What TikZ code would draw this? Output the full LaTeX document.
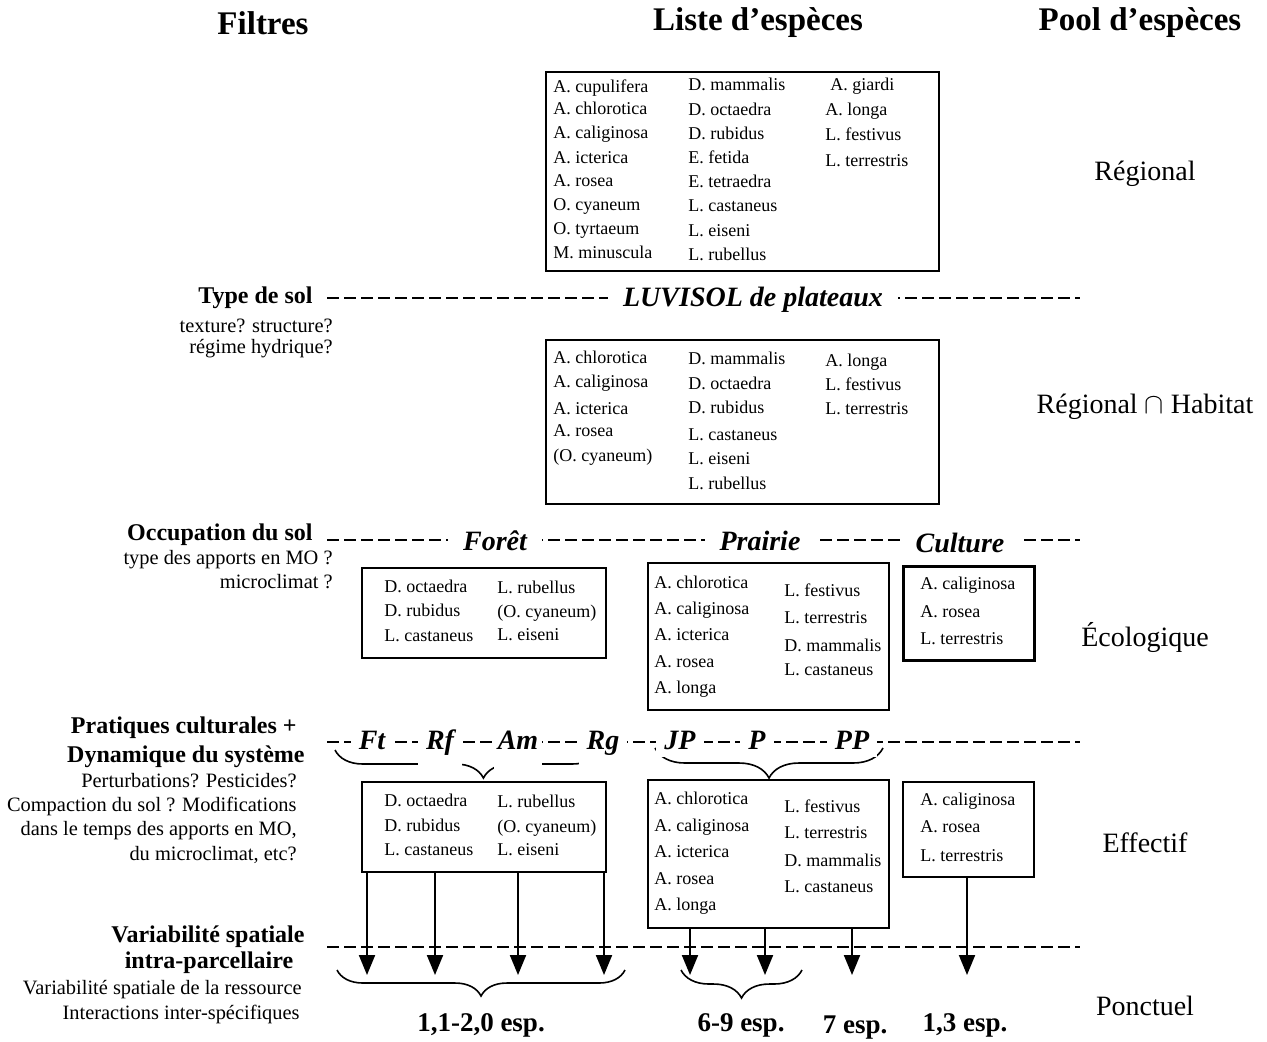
\documentclass[tikz,border=0pt]{standalone}
\usepackage{fontspec}
\setmainfont{Liberation Serif}
\usetikzlibrary{arrows.meta,decorations.pathreplacing,positioning}
\tikzset{
  titre/.style    = {font=\fontsize{16.5}{19}\selectfont\bfseries},
  filtre/.style   = {font=\fontsize{12}{14}\selectfont\bfseries, anchor=east, inner sep=0pt},
  question/.style = {font=\fontsize{10.2}{12}\selectfont, anchor=east, inner sep=0pt},
  pool/.style     = {font=\fontsize{14}{16}\selectfont},
  modalite/.style = {font=\fontsize{14}{16}\selectfont\bfseries\itshape, fill=white,
                     inner xsep=7.5pt, inner ysep=1pt},
  pratique/.style = {modalite, inner xsep=4pt, text height=10pt, text depth=3pt},
  cache/.style    = {minimum height=30pt},
  cadre/.style    = {draw, line width=1pt, anchor=north west, inner sep=0pt},
  espece/.style   = {anchor=west, inner sep=0pt, text height=6.5pt, text depth=2pt,
                     font=\fontsize{9}{11}\selectfont},
  limite/.style   = {line width=1pt, dash pattern=on 6pt off 2.5pt},
  fleche/.style   = {line width=1pt, -{Triangle[length=10pt,width=8pt]}},
  accolade/.style = {line width=0.8pt, decorate, decoration={brace, mirror, amplitude=#1}},
  accolade/.default = 12pt,
  nbesp/.style    = {font=\fontsize{13.5}{16}\selectfont\bfseries},
}

\begin{document}
\begin{tikzpicture}[x=0.5pt, y=-0.5pt]
  \useasboundingbox (0,0) rectangle (1267,1041);

  % ---- en-tetes -----------------------------------------------------------
  \node[titre] (hFiltres) at (263,23)  {Filtres};
  \node[titre] (hListe)   at (758,23)  {Liste d’espèces};
  \node[titre] (hPool)    at (1140,23) {Pool d’espèces};

  % ---- pools d'especes ----------------------------------------------------
  \node[pool] (pRegional) at (1145,174)  {Régional};
  \node[pool] (pHabitat)  at (1145,407)  {Régional $\cap$ Habitat};
  \node[pool] (pEcolo)    at (1145,637)  {Écologique};
  \node[pool] (pEffectif) at (1145,843)  {Effectif};
  \node[pool] (pPonctuel) at (1145,1006) {Ponctuel};

  % ---- filtres ------------------------------------------------------------
  \node[filtre]   (fSol)   at (313,298) {Type de sol};
  \node[question] (qSol1)  at (333,326) {texture? structure?};
  \node[question] (qSol2)  at (333,349) {régime hydrique?};
  \node[filtre]   (fOccup) at (313,535) {Occupation du sol};
  \node[question] (qOcc1)  at (333,560) {type des apports en MO ?};
  \node[question] (qOcc2)  at (333,582) {microclimat ?};
  \node[filtre]   (fPrat1) at (297,728) {Pratiques culturales +};
  \node[filtre]   (fPrat2) at (305,757) {Dynamique du système};
  \node[question] (qPra1)  at (297,781) {Perturbations? Pesticides?};
  \node[question] (qPra2)  at (297,806) {Compaction du sol ? Modifications};
  \node[question] (qPra3)  at (297,831) {dans le temps des apports en MO,};
  \node[question] (qPra4)  at (297,855) {du microclimat, etc?};
  \node[filtre, anchor=center] (fVar1) at (208,937) {Variabilité spatiale};
  \node[filtre, anchor=center] (fVar2) at (209,963) {intra-parcellaire};
  \node[question] (qVar1)  at (302,990)  {Variabilité spatiale de la ressource};
  \node[question] (qVar2)  at (300,1014) {Interactions inter-spécifiques};

  % ---- limites entre niveaux ---------------------------------------------
  \coordinate (g1) at (327,298); \coordinate (d1) at (1080,298);
  \coordinate (g2) at (327,540); \coordinate (d2) at (1080,540);
  \coordinate (g3) at (327,742); \coordinate (d3) at (1080,742);
  \coordinate (g4) at (327,947); \coordinate (d4) at (1080,947);
  \draw[limite] (g1) -- (d1);
  \draw[limite] (g2) -- (d2);
  \draw[limite] (g3) -- (d3);
  \draw[limite] (g4) -- (d4);

  % ---- accolades ----------------------------------------------------------
  \coordinate (bFt1) at (335,750); \coordinate (bFt2) at (600,750);
  \coordinate (bJP1) at (655,748); \coordinate (bJP2) at (883,748);
  \coordinate (bN1g) at (337,970); \coordinate (bN1d) at (625,970);
  \coordinate (bN2g) at (681,970); \coordinate (bN2d) at (802,970);
  \draw[accolade=14pt, decoration={aspect=0.56}] (bFt1) -- (bFt2);
  \draw[accolade=15pt] (bJP1) -- (bJP2);
  \draw[accolade=13pt] (bN1g) -- (bN1d);
  \draw[accolade=14pt] (bN2g) -- (bN2d);

  % ---- modalites ----------------------------------------------------------
  \node[modalite] (luvisol) at (753,300) {LUVISOL de plateaux};
  \node[modalite] (foret)   at (495,541) {Forêt};
  \node[modalite] (prairie) at (760,541) {Prairie};
  \node[modalite] (culture) at (960,543) {Culture};
  \node[pratique]        (ft) at (372,742) {Ft};
  \node[pratique, cache] (rf) at (440,742) {Rf};
  \node[pratique, cache, inner xsep=2pt] (am) at (518,742) {Am};
  \node[pratique, cache] (rg) at (603,742) {Rg};
  \node[pratique]        (jp) at (680,742) {JP};
  \node[pratique]        (pp1) at (757,742) {P};
  \node[pratique]        (pp2) at (852,742) {PP};

  % ---- listes d'especes ---------------------------------------------------
  \node[cadre, minimum width=196.5pt, minimum height=99.5pt] (regional) at (545,71) {};
  \foreach \y/\s [count=\i] in {88/A. cupulifera, 110/A. chlorotica, 134/A. caliginosa,
      159/A. icterica, 182/A. rosea, 206/O. cyaneum, 230/O. tyrtaeum, 254/M. minuscula}
    \node[espece] (rA\i) at (553,\y) {\s};
  \foreach \y/\s [count=\i] in {86/D. mammalis, 111/D. octaedra, 135/D. rubidus,
      159/E. fetida, 183/E. tetraedra, 207/L. castaneus, 232/L. eiseni, 256/L. rubellus}
    \node[espece] (rB\i) at (688,\y) {\s};
  \node[espece] (rC1) at (830,86) {A. giardi};
  \foreach \y/\s [count=\i from 2] in {111/A. longa, 136/L. festivus, 162/L. terrestris}
    \node[espece] (rC\i) at (825,\y) {\s};

  \node[cadre, minimum width=196.5pt, minimum height=82pt] (habitat) at (545,339) {};
  \foreach \y/\s [count=\i] in {359/A. chlorotica, 383/A. caliginosa, 410/A. icterica,
      432/A. rosea, 457/(O. cyaneum)}
    \node[espece] (hA\i) at (553,\y) {\s};
  \foreach \y/\s [count=\i] in {360/D. mammalis, 385/D. octaedra, 409/D. rubidus,
      436/L. castaneus, 460/L. eiseni, 485/L. rubellus}
    \node[espece] (hB\i) at (688,\y) {\s};
  \foreach \y/\s [count=\i] in {362/A. longa, 386/L. festivus, 410/L. terrestris}
    \node[espece] (hC\i) at (825,\y) {\s};

  % ecologique
  \node[cadre, minimum width=122pt, minimum height=45pt] (ecoForet) at (361,567) {};
  \foreach \y/\s [count=\i] in {588/D. octaedra, 612/D. rubidus, 637/L. castaneus}
    \node[espece] (efA\i) at (384,\y) {\s};
  \foreach \y/\s [count=\i] in {589/L. rubellus, 613/(O. cyaneum), 636/L. eiseni}
    \node[espece] (efB\i) at (497,\y) {\s};

  \node[cadre, minimum width=120.5pt, minimum height=73.5pt] (ecoPrairie) at (647,562) {};
  \foreach \y/\s [count=\i] in {584/A. chlorotica, 610/A. caliginosa, 636/A. icterica,
      663/A. rosea, 689/A. longa}
    \node[espece] (epA\i) at (654,\y) {\s};
  \foreach \y/\s [count=\i] in {592/L. festivus, 619/L. terrestris, 647/D. mammalis,
      671/L. castaneus}
    \node[espece] (epB\i) at (784,\y) {\s};

  \node[cadre, line width=1.4pt, minimum width=65.5pt, minimum height=47pt] (ecoCulture) at (902,565) {};
  \foreach \y/\s [count=\i] in {585/A. caliginosa, 613/A. rosea, 640/L. terrestris}
    \node[espece] (ecA\i) at (920,\y) {\s};

  % effectif
  \node[cadre, minimum width=122pt, minimum height=45pt] (effForet) at (361,781) {};
  \foreach \y/\s [count=\i] in {802/D. octaedra, 827/D. rubidus, 851/L. castaneus}
    \node[espece] (ffA\i) at (384,\y) {\s};
  \foreach \y/\s [count=\i] in {803/L. rubellus, 828/(O. cyaneum), 851/L. eiseni}
    \node[espece] (ffB\i) at (497,\y) {\s};

  \node[cadre, minimum width=120.5pt, minimum height=74pt] (effPrairie) at (647,779) {};
  \foreach \y/\s [count=\i] in {800/A. chlorotica, 827/A. caliginosa, 853/A. icterica,
      880/A. rosea, 906/A. longa}
    \node[espece] (fpA\i) at (654,\y) {\s};
  \foreach \y/\s [count=\i] in {808/L. festivus, 834/L. terrestris, 862/D. mammalis,
      888/L. castaneus}
    \node[espece] (fpB\i) at (784,\y) {\s};

  \node[cadre, minimum width=65.5pt, minimum height=47.5pt] (effCulture) at (902,781) {};
  \foreach \y/\s [count=\i] in {801/A. caliginosa, 828/A. rosea, 857/L. terrestris}
    \node[espece] (fcA\i) at (920,\y) {\s};

  % ---- vers le niveau ponctuel --------------------------------------------
  \foreach \x [count=\i] in {367,435,518,604} {
    \coordinate (tf\i) at (\x,975);
    \draw[fleche] (effForet.south -| tf\i) -- (tf\i);
  }
  \foreach \x [count=\i] in {690,765,852} {
    \coordinate (tp\i) at (\x,975);
    \draw[fleche] (effPrairie.south -| tp\i) -- (tp\i);
  }
  \coordinate (tc1) at (967,975);
  \draw[fleche] (effCulture.south -| tc1) -- (tc1);

  \node[nbesp] (n1) at (481,1025) {1,1-2,0 esp.};
  \node[nbesp] (n2) at (741,1025) {6-9 esp.};
  \node[nbesp] (n3) at (855,1028) {7 esp.};
  \node[nbesp] (n4) at (965,1025) {1,3 esp.};
\end{tikzpicture}
\end{document}
